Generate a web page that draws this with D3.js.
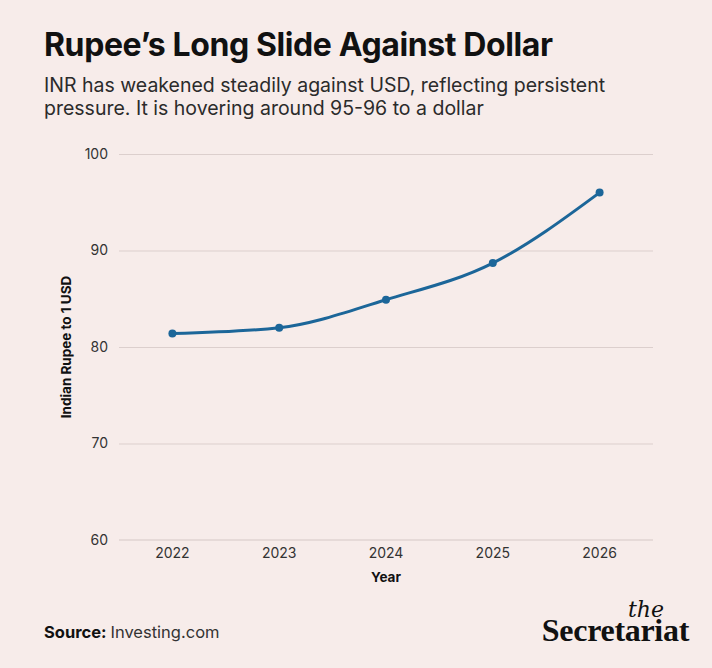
<!DOCTYPE html>
<html>
<head>
<meta charset="utf-8">
<script src="https://cdn.jsdelivr.net/npm/d3@7"></script>
<style>
  html, body { margin: 0; padding: 0; background: #f7ecea; }
  svg { display: block; }
</style>
</head>
<body>
<svg id="chart" width="712" height="668"></svg>
<script>
// Data
const years = ["2022", "2023", "2024", "2025", "2026"];
const rates = [81.4, 82.0, 84.9, 88.7, 96.0];
const yTicks = [60, 70, 80, 90, 100];

const W = 712, H = 668;
const margin = { top: 154, right: 59, bottom: 128, left: 119 };
const innerW = W - margin.left - margin.right;
const innerH = H - margin.top - margin.bottom;

const font = "Inter, 'Open Sans', sans-serif";
const lineColor = "#1c6699";

const svg = d3.select("#chart");

svg.append("rect")
    .attr("width", W)
    .attr("height", H)
    .attr("fill", "#f7ecea");

// Title + subtitle
svg.append("text")
    .attr("x", 44)
    .attr("y", 56)
    .attr("font-family", font)
    .attr("font-size", "32px")
    .attr("font-weight", 700)
    .attr("letter-spacing", "-0.4px")
    .attr("fill", "#111")
    .text("Rupee’s Long Slide Against Dollar");

const sub = svg.append("text")
    .attr("font-family", font)
    .attr("font-size", "19.5px")
    .attr("fill", "#2b2b2b")
    .attr("letter-spacing", "0px");
sub.append("tspan").attr("x", 44).attr("y", 92)
    .text("INR has weakened steadily against USD, reflecting persistent");
sub.append("tspan").attr("x", 44).attr("y", 115)
    .text("pressure. It is hovering around 95-96 to a dollar");

const g = svg.append("g")
    .attr("transform", `translate(${margin.left},${margin.top})`);

const x = d3.scaleBand()
    .domain(years)
    .range([0, innerW])
    .padding(0);

const y = d3.scaleLinear()
    .domain([60, 100])
    .range([innerH, 0]);

// Gridlines + y ticks
const yAxis = g.append("g")
    .call(d3.axisLeft(y).tickValues(yTicks).tickSize(-innerW).tickPadding(11).tickFormat(d3.format("d")));
yAxis.select(".domain").remove();
yAxis.selectAll(".tick line")
    .attr("stroke", "#dccfcd")
    .attr("stroke-width", 1);
yAxis.selectAll(".tick text")
    .attr("font-family", font)
    .attr("font-size", "14px")
    .attr("fill", "#333");

// bottom axis line
g.append("line")
    .attr("x1", 0).attr("x2", innerW)
    .attr("y1", innerH).attr("y2", innerH)
    .attr("stroke", "#e6dad8")
    .attr("stroke-width", 2);

const xAxis = g.append("g")
    .attr("transform", `translate(0,${innerH})`)
    .call(d3.axisBottom(x).tickSize(0).tickPadding(8));
xAxis.select(".domain").remove();
xAxis.selectAll(".tick text")
    .attr("font-family", font)
    .attr("font-size", "14px")
    .attr("fill", "#333");

// axis titles
g.append("text")
    .attr("x", innerW / 2)
    .attr("y", innerH + 42)
    .attr("text-anchor", "middle")
    .attr("font-family", font)
    .attr("font-size", "13.5px")
    .attr("font-weight", 700)
    .attr("fill", "#111")
    .text("Year");

g.append("text")
    .attr("transform", `translate(${-48},${y(80)}) rotate(-90)`)
    .attr("text-anchor", "middle")
    .attr("font-family", font)
    .attr("font-size", "13.5px")
    .attr("font-weight", 700)
    .attr("fill", "#111")
    .text("Indian Rupee to 1 USD");

// line + points
const pts = years.map((yr, i) => ({ yr, v: rates[i] }));
const line = d3.line()
    .x(d => x(d.yr) + x.bandwidth() / 2)
    .y(d => y(d.v))
    .curve(d3.curveMonotoneX);

g.append("path")
    .datum(pts)
    .attr("d", line)
    .attr("fill", "none")
    .attr("stroke", lineColor)
    .attr("stroke-width", 3);

g.selectAll("circle.pt")
    .data(pts)
    .join("circle")
    .attr("class", "pt")
    .attr("cx", d => x(d.yr) + x.bandwidth() / 2)
    .attr("cy", d => y(d.v))
    .attr("r", 4)
    .attr("fill", lineColor);

// Footer
const src = svg.append("text")
    .attr("x", 44)
    .attr("y", 638)
    .attr("font-family", font)
    .attr("font-size", "16.5px")
    .attr("fill", "#111");
src.append("tspan").attr("font-weight", 700).text("Source: ");
src.append("tspan").attr("fill", "#333").text("Investing.com");

svg.append("text")
    .attr("x", 664)
    .attr("y", 617)
    .attr("text-anchor", "end")
    .attr("font-family", "'DejaVu Serif', 'Liberation Serif', serif")
    .attr("font-style", "italic")
    .attr("font-size", "22px")
    .attr("fill", "#111")
    .text("the");

svg.append("text")
    .attr("x", 689)
    .attr("y", 641)
    .attr("text-anchor", "end")
    .attr("font-family", "'Liberation Serif', 'DejaVu Serif', serif")
    .attr("font-weight", 700)
    .attr("font-size", "32px")
    .attr("letter-spacing", "-0.3px")
    .attr("fill", "#111")
    .text("Secretariat");
</script>
</body>
</html>
